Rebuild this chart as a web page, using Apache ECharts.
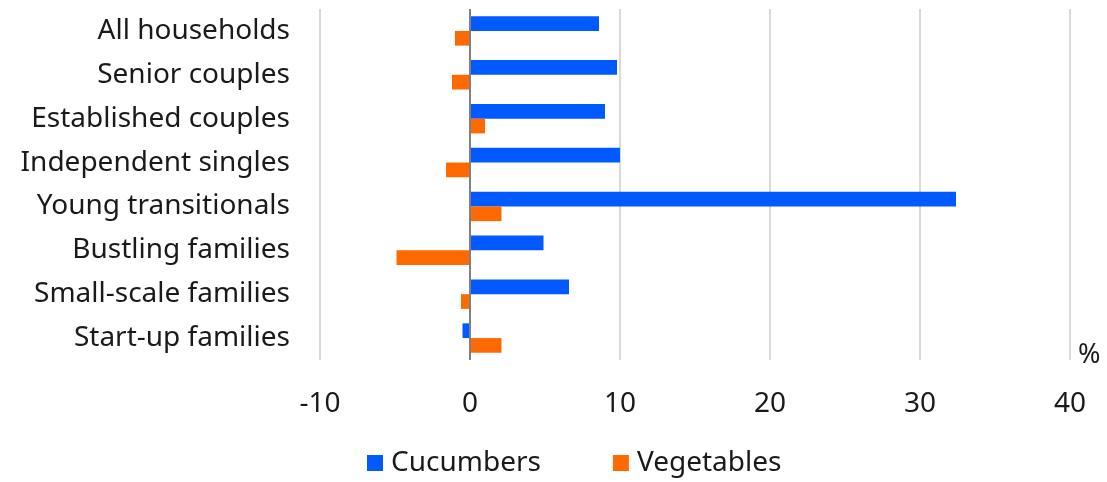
<!DOCTYPE html>
<html>
<head>
<meta charset="utf-8">
<script src="https://cdn.jsdelivr.net/npm/echarts@6/dist/echarts.min.js"></script>
<style>
  html, body { margin: 0; padding: 0; background: #ffffff; }
  #chart { width: 1107px; height: 482px; }
</style>
</head>
<body>
<div id="chart"></div>
<script>
// Household segments, listed top to bottom
const categories = [
  'All households',
  'Senior couples',
  'Established couples',
  'Independent singles',
  'Young transitionals',
  'Bustling families',
  'Small-scale families',
  'Start-up families'
];

// Change in spend, %
const cucumbers = [8.6, 9.8, 9.0, 10.0, 32.4, 4.9, 6.6, -0.5];
const vegetables = [-1.0, -1.2, 1.0, -1.6, 2.1, -4.9, -0.6, 2.1];

const xTicks = { min: -10, max: 40, interval: 10 };

const FONT = 'Noto Sans';
const TEXT = '#1a1a1a';
const SIZE = 28;

const chart = echarts.init(document.getElementById('chart'), null, { renderer: 'canvas' });

chart.setOption({
  animation: false,
  textStyle: { fontFamily: FONT },
  grid: { left: 320, right: 37, top: 9, bottom: 122, containLabel: false },
  legend: {
    left: 362,
    top: 444,
    icon: 'rect',
    itemWidth: 16,
    itemHeight: 16,
    itemGap: 72,
    textStyle: { fontFamily: FONT, fontSize: SIZE, color: TEXT, padding: [0, 0, 0, 3] },
    data: ['Cucumbers', 'Vegetables']
  },
  xAxis: {
    type: 'value',
    min: xTicks.min,
    max: xTicks.max,
    interval: xTicks.interval,
    name: '%',
    nameLocation: 'end',
    nameGap: 8,
    nameTextStyle: { fontFamily: FONT, fontSize: 27, color: TEXT, verticalAlign: 'bottom', align: 'left', padding: [0, 0, -9, 0] },
    axisLine: { show: false },
    axisTick: { show: false },
    axisLabel: { fontFamily: FONT, fontSize: SIZE, color: TEXT, margin: 30 },
    splitLine: { show: true, lineStyle: { color: '#d9d9d9', width: 2 } }
  },
  yAxis: {
    type: 'category',
    data: categories,
    inverse: true,
    axisLine: { show: false },
    axisTick: { show: false },
    axisLabel: { fontFamily: FONT, fontSize: SIZE, color: TEXT, margin: 30, align: 'right' },
    splitLine: { show: false }
  },
  series: [
    {
      name: 'Cucumbers',
      type: 'bar',
      data: cucumbers,
      barGap: '0%',
      barCategoryGap: '33%',
      itemStyle: { color: '#005aff' },
      markLine: {
        silent: true,
        symbol: 'none',
        label: { show: false },
        lineStyle: { color: '#808080', width: 2, type: 'solid' },
        data: [{ xAxis: 0 }]
      },
      z: 2
    },
    {
      name: 'Vegetables',
      type: 'bar',
      data: vegetables,
      barGap: '0%',
      barCategoryGap: '33%',
      itemStyle: { color: '#ff6a00' },
      z: 2
    }
  ]
});
</script>
</body>
</html>
